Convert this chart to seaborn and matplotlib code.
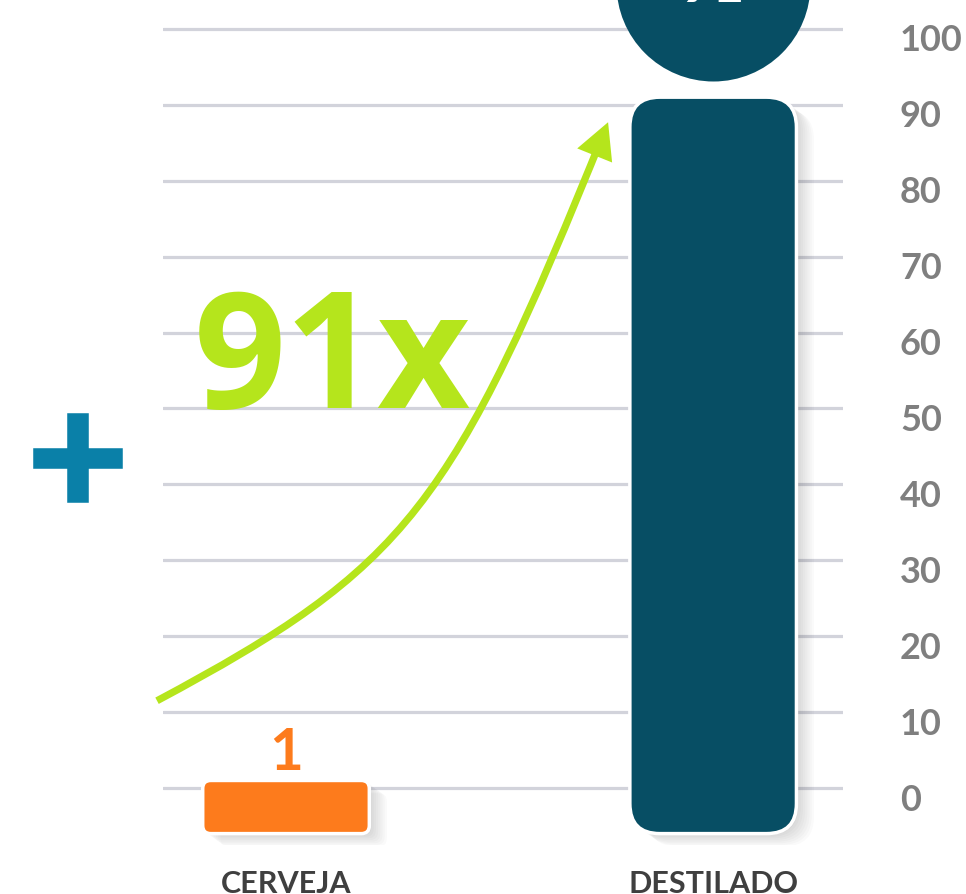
import numpy as np
import matplotlib
matplotlib.use("Agg")
import matplotlib.pyplot as plt
import matplotlib.transforms as mtransforms
import matplotlib.patheffects as pe
from matplotlib.patches import FancyBboxPatch, FancyArrowPatch
from matplotlib.path import Path
import seaborn as sns

# =====================================================
# DATA
# =====================================================
categories = ["CERVEJA", "DESTILADO"]
values = [1, 91]
bar_colors = ["#fd7b1c", "#074e64"]
y_ticks = [0, 10, 20, 30, 40, 50, 60, 70, 80, 90, 100]
ratio_label = "91x"

# green growth arrow: cubic bezier
# (x in category units, y in axis units)
curve_x = [-0.302, 0.283, 0.389, 0.754]
curve_y = [11.5, 29.1, 36.8, 87.7]

BASE = -6          # bars start a bit below zero
GREEN = "#b5e51c"
TEAL = "#0a80a8"

# =====================================================
# FIGURE
# =====================================================
sns.set_style("white")
plt.rcParams["font.family"] = ["Lato", "DejaVu Sans"]

fig = plt.figure(figsize=(9.66, 8.94), dpi=100)
ax = fig.add_axes([163 / 966, 49 / 894, 680 / 966, 845 / 894])

sns.barplot(x=categories, y=values, hue=categories, palette=bar_colors,
            saturation=1, legend=False, width=0.39, ax=ax)

ax.set_xlim(-0.288, 1.304)
ax.set_ylim(-7.5, 103.8)

# pixel size of one data unit
px_x = ax.transData.transform((1, 0))[0] - ax.transData.transform((0, 0))[0]
px_y = ax.transData.transform((0, 1))[1] - ax.transData.transform((0, 0))[1]

# =====================================================
# ROUNDED BARS WITH SOFT SHADOW
# =====================================================
round_px = [8, 30]
for i, p in enumerate(list(ax.patches)):
    x0, w, h = p.get_x(), p.get_width(), p.get_height()
    fc = p.get_facecolor()
    p.remove()
    style = f"round,pad=0,rounding_size={round_px[i] / px_x}"
    for k in range(1, 9):
        sh = FancyBboxPatch((x0 + k * 2.2 / px_x, BASE - k * 1.6 / px_y), w, h - BASE,
                            boxstyle=style, mutation_aspect=px_x / px_y,
                            fc="black", ec="none", alpha=0.018, zorder=2)
        ax.add_patch(sh)
    box = FancyBboxPatch((x0, BASE), w, h - BASE, boxstyle=style,
                         mutation_aspect=px_x / px_y, fc=fc, ec="white",
                         lw=2.5, zorder=3)
    ax.add_patch(box)

# head of the "i" on top of the big bar
head_r = 97 / px_y
head_y = values[1] + 16 / px_y + head_r
ax.scatter([1], [head_y], s=(194 * 72 / 100) ** 2, color=bar_colors[1],
           clip_on=False, zorder=4, linewidths=0)
ax.text(1, head_y - head_r + 79 / px_y, str(values[1]), color="white",
        fontsize=40, fontweight="bold", ha="center", va="baseline",
        clip_on=False, zorder=5)

# value label for the small bar
ax.text(0, values[0] + 1.4, str(values[0]), color=bar_colors[0], fontsize=42,
        fontweight="bold", ha="center", va="baseline", zorder=5)

# =====================================================
# CURVE + ARROW
# =====================================================
arrow_path = Path(list(zip(curve_x, curve_y)),
                  [Path.MOVETO, Path.CURVE4, Path.CURVE4, Path.CURVE4])
arrow = FancyArrowPatch(path=arrow_path,
                        arrowstyle="-|>,head_length=0.8,head_width=0.42",
                        mutation_scale=22, lw=5.2, color=GREEN,
                        capstyle="butt", joinstyle="miter",
                        clip_on=False, zorder=4)
ax.add_patch(arrow)

ax.text(-0.215, 50.1, ratio_label, color=GREEN, fontsize=116,
        fontweight="bold", family=["Open Sans", "DejaVu Sans"],
        ha="left", va="baseline", zorder=5)

fig.text(78 / 966, 1 - 449 / 894, "+", color=TEAL, fontsize=96,
         fontweight="bold", family=["DejaVu Sans"], ha="center",
         va="center_baseline",
         path_effects=[pe.withStroke(linewidth=4, foreground=TEAL,
                                     joinstyle="miter")])

# =====================================================
# AXES STYLE
# =====================================================
ax.set_yticks(y_ticks)
ax.yaxis.tick_right()
ax.grid(axis="y", color="#d2d3db", lw=2.3, zorder=0)
ax.grid(axis="x", visible=False)
ax.set_axisbelow(True)
ax.tick_params(axis="y", length=0, pad=41, labelsize=26, labelcolor="#7f7f7f")
ax.tick_params(axis="x", length=0, pad=18, labelsize=22, labelcolor="#3f3f3f")
for lbl in ax.get_yticklabels() + ax.get_xticklabels():
    lbl.set_fontweight("bold")
offset = mtransforms.ScaledTranslation(0, -9 / 100, fig.dpi_scale_trans)
for tick in ax.yaxis.get_major_ticks():
    tick.label2.set_transform(tick.label2.get_transform() + offset)
ax.set_xlabel("")
ax.set_ylabel("")
sns.despine(ax=ax, left=True, bottom=True)

fig.savefig("out.png", dpi=100)
